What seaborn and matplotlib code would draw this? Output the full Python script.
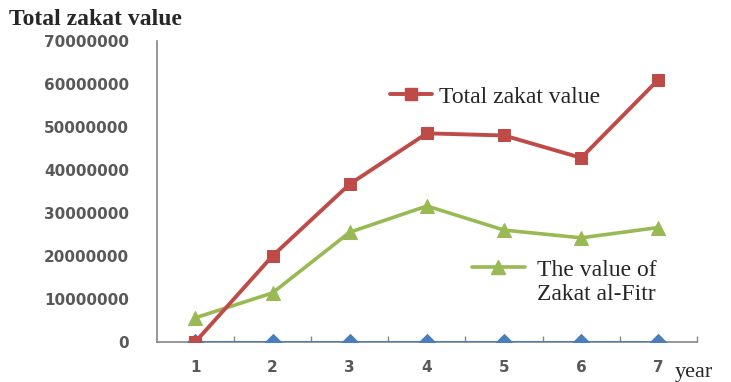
import matplotlib
matplotlib.use("Agg")
import matplotlib.pyplot as plt
from matplotlib.lines import Line2D
import pandas as pd
import seaborn as sns

# data
years = [1, 2, 3, 4, 5, 6, 7]
total_zakat = [0, 20000000, 36700000, 48500000, 48000000, 42800000, 61000000]
zakat_fitr = [5600000, 11400000, 25500000, 31600000, 26000000, 24200000, 26600000]
other_series = [0, 0, 0, 0, 0, 0, 0]
y_ticks = [0, 10000000, 20000000, 30000000, 40000000, 50000000, 60000000, 70000000]

red = "#BE4B48"
green = "#98B954"
blue = "#4A7EBB"
axis_grey = "#868686"
label_grey = "#595959"

sns.set_style("white")
plt.rcParams["font.family"] = ["DejaVu Sans"]

df = pd.DataFrame({"year": years, "total": total_zakat,
                   "fitr": zakat_fitr, "other": other_series})

fig = plt.figure(figsize=(7.31, 3.82), dpi=100)
ax = fig.add_axes([0.2145, 0.105, 0.739, 0.788])

sns.lineplot(data=df, x="year", y="other", ax=ax, color=blue, lw=2.2,
             marker="D", markersize=8, markeredgecolor=blue, zorder=3)
sns.lineplot(data=df, x="year", y="fitr", ax=ax, color=green, lw=2.6,
             marker="^", markersize=10, markeredgecolor=green, zorder=4)
sns.lineplot(data=df, x="year", y="total", ax=ax, color=red, lw=2.8,
             marker="s", markersize=9, markeredgecolor=red, zorder=5)

ax.set_xlim(0.5, 7.5)
ax.set_ylim(0, 70000000)
ax.set_yticks(y_ticks)
ax.set_yticklabels([str(v) for v in y_ticks])
ax.set_xticks(years)
ax.set_xticks([y + 0.5 for y in years], minor=True)
ax.set_xlabel("")
ax.set_ylabel("")

for s in ["top", "right"]:
    ax.spines[s].set_visible(False)
for s in ["left", "bottom"]:
    ax.spines[s].set_color(axis_grey)
    ax.spines[s].set_linewidth(1.2)

ax.tick_params(axis="y", direction="inout", length=16, width=1.2,
               color=axis_grey, labelcolor=label_grey, labelsize=11, pad=12)
ax.tick_params(axis="x", which="major", length=0, labelcolor=label_grey,
               labelsize=11, pad=13)
ax.tick_params(axis="x", which="minor", direction="in", length=4,
               width=1, color=axis_grey, bottom=True)
for lab in ax.get_yticklabels() + ax.get_xticklabels():
    lab.set_fontweight("bold")

serif = ["Liberation Serif", "DejaVu Serif"]

h1 = Line2D([], [], color=red, lw=2.8, marker="s", markersize=9)
leg1 = ax.legend([h1], ["Total zakat value"], loc="center left",
                 bbox_to_anchor=(0.431, 0.814), frameon=False,
                 handlelength=1.8, handletextpad=0.3, borderpad=0,
                 borderaxespad=0, prop={"family": serif, "size": 17})
ax.add_artist(leg1)

h2 = Line2D([], [], color=green, lw=2.6, marker="^", markersize=10)
ax.legend([h2], ["The value of"], loc="center left",
          bbox_to_anchor=(0.583, 0.239), frameon=False,
          handlelength=2.25, handletextpad=0.5, borderpad=0,
          borderaxespad=0, prop={"family": serif, "size": 17})
ax.text(0.704, 0.156, "Zakat al-Fitr", transform=ax.transAxes,
        family=serif, size=17, ha="left", va="center")

fig.text(0.012, 0.948, "Total zakat value", family=serif, size=17,
         weight="bold", ha="left", va="center")
fig.text(0.923, 0.026, "year", family=serif, size=16, ha="left", va="center")

fig.savefig("out.png", dpi=100)
